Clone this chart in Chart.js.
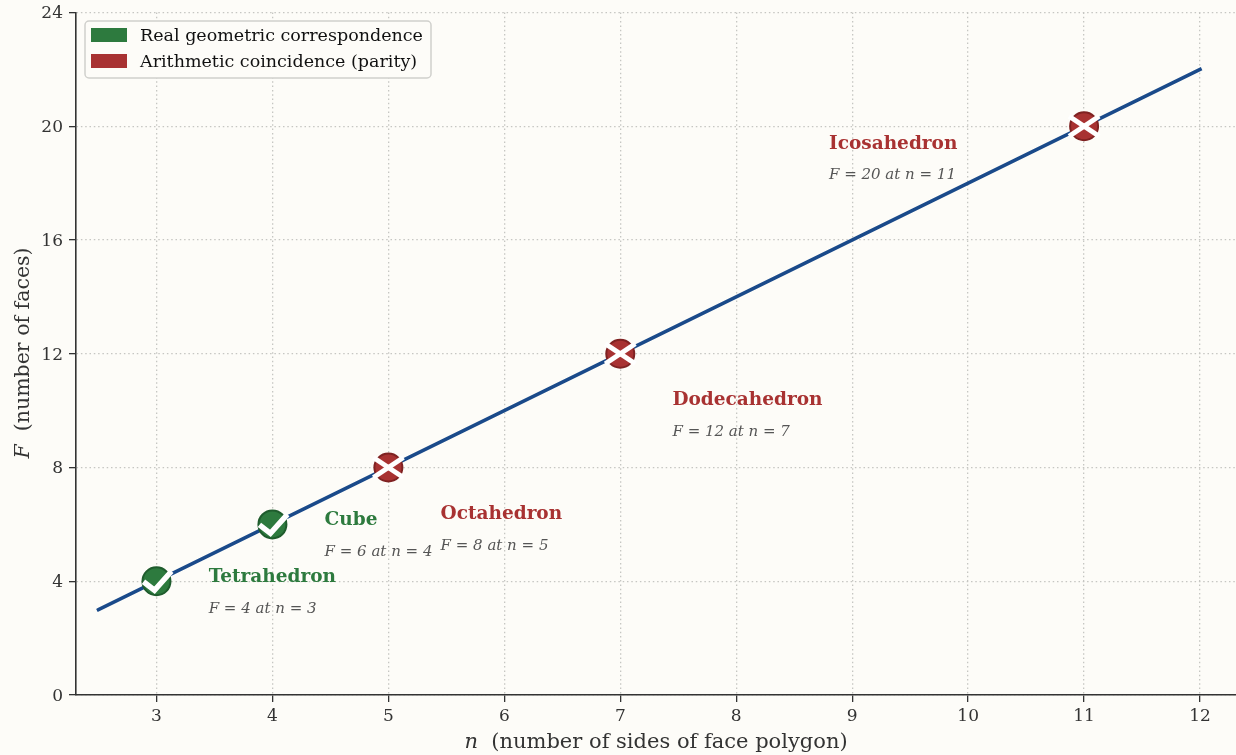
<!DOCTYPE html>
<html>
<head>
<meta charset="utf-8">
<title>Faces vs sides</title>
<script src="https://cdn.jsdelivr.net/npm/chart.js@4"></script>
<style>
  html, body { margin: 0; padding: 0; background: #fdfcf8; }
  canvas { display: block; }
</style>
</head>
<body>
<canvas id="facesChart" width="1236" height="755"></canvas>
<script>
// Line F = 2n - 2, end points
const lineN = [2.5, 12];
const lineF = [3, 22];

// Solids
const realNames = ['Tetrahedron', 'Cube'];
const realN = [3, 4];
const realF = [4, 6];
const parityNames = ['Octahedron', 'Dodecahedron', 'Icosahedron'];
const parityN = [5, 7, 11];
const parityF = [8, 12, 20];

// Annotation anchors, in data units
const realLabelN = [3.45, 4.45];
const realTitleF = [4.18, 6.19];
const realSubF = [3.05, 5.06];
const parityLabelN = [5.45, 7.45, 8.8];
const parityTitleF = [6.4, 10.4, 19.4];
const paritySubF = [5.27, 9.28, 18.3];

const xTicks = [3, 4, 5, 6, 7, 8, 9, 10, 11, 12];
const yTicks = [0, 4, 8, 12, 16, 20, 24];
const legendLabels = ['Real geometric correspondence', 'Arithmetic coincidence (parity)'];

const SERIF = '"DejaVu Serif", serif';
const GREEN = '#2d7a3e';
const RED = '#a83232';
const BLUE = '#1a4a8a';
const AXIS = '#333333';
const GRID = '#c6c6c2';

function toPoints(xs, ys) {
    return xs.map((x, i) => ({ x: x, y: ys[i] }));
}

function stroke(ctx, pts) {
    ctx.beginPath();
    pts.forEach((p, i) => i ? ctx.lineTo(p[0], p[1]) : ctx.moveTo(p[0], p[1]));
    ctx.stroke();
}

// the auto layout keeps room for edge tick labels, the plot here runs to the canvas edge
const fixedAreaPlugin = {
    id: 'fixedArea',
    afterLayout(chart) {
        const area = { left: 76, right: 1236, top: 12.5, bottom: 695 };
        Object.assign(chart.chartArea, area, { width: area.right - area.left, height: area.bottom - area.top });
        const x = chart.scales.x, y = chart.scales.y;
        Object.assign(x, { left: area.left, right: area.right, width: area.right - area.left, top: area.bottom, bottom: 755 });
        Object.assign(y, { left: 0, right: area.left, top: area.top, bottom: area.bottom, height: area.bottom - area.top });
        x.configure();
        y.configure();
    }
};

// white check and cross on top of the round markers
const glyphPlugin = {
    id: 'glyphs',
    afterDatasetsDraw(chart) {
        const ctx = chart.ctx;
        ctx.save();
        ctx.strokeStyle = '#ffffff';
        ctx.lineCap = 'butt';
        ctx.lineJoin = 'miter';
        ctx.lineWidth = 5.5;
        chart.getDatasetMeta(1).data.forEach(p => {
            stroke(ctx, [[p.x - 13, p.y + 0.5], [p.x - 2, p.y + 9], [p.x + 15, p.y - 10]]);
        });
        ctx.lineWidth = 5;
        chart.getDatasetMeta(2).data.forEach(p => {
            stroke(ctx, [[p.x - 15, p.y - 10], [p.x + 15, p.y + 10]]);
            stroke(ctx, [[p.x - 15, p.y + 10], [p.x + 15, p.y - 10]]);
        });
        ctx.restore();
    }
};

const labelPlugin = {
    id: 'solidLabels',
    afterDatasetsDraw(chart) {
        const ctx = chart.ctx;
        const xs = chart.scales.x, ys = chart.scales.y;
        ctx.save();
        ctx.textAlign = 'left';
        ctx.textBaseline = 'middle';
        function put(names, ns, fs, labN, titleF, subF, color) {
            names.forEach((name, i) => {
                const px = xs.getPixelForValue(labN[i]);
                ctx.font = 'bold 18.5px ' + SERIF;
                ctx.fillStyle = color;
                ctx.fillText(name, px, ys.getPixelForValue(titleF[i]) + 1);
                ctx.font = 'italic 15px ' + SERIF;
                ctx.fillStyle = '#555555';
                ctx.fillText('F = ' + fs[i] + ' at n = ' + ns[i], px, ys.getPixelForValue(subF[i]) + 1);
            });
        }
        put(realNames, realN, realF, realLabelN, realTitleF, realSubF, GREEN);
        put(parityNames, parityN, parityF, parityLabelN, parityTitleF, paritySubF, RED);
        ctx.restore();
    }
};

// axis titles have an italic variable followed by upright text
const axisTitlePlugin = {
    id: 'axisTitles',
    afterDraw(chart) {
        const ctx = chart.ctx;
        function run(italic, rest, cx, cy, angle, size) {
            ctx.save();
            ctx.translate(cx, cy);
            ctx.rotate(angle);
            ctx.fillStyle = AXIS;
            ctx.textBaseline = 'middle';
            ctx.textAlign = 'left';
            ctx.font = 'italic ' + size + 'px ' + SERIF;
            const w1 = ctx.measureText(italic).width;
            ctx.font = size + 'px ' + SERIF;
            const w2 = ctx.measureText(rest).width;
            const start = -(w1 + w2) / 2;
            ctx.font = 'italic ' + size + 'px ' + SERIF;
            ctx.fillText(italic, start, 0);
            ctx.font = size + 'px ' + SERIF;
            ctx.fillText(rest, start + w1, 0);
            ctx.restore();
        }
        run('n', '  (number of sides of face polygon)', 656, 743, 0, 21);
        run('F', '  (number of faces)', 24, 353, -Math.PI / 2, 20.5);
    }
};

const legendPlugin = {
    id: 'boxLegend',
    afterDraw(chart) {
        const ctx = chart.ctx;
        ctx.save();
        ctx.beginPath();
        ctx.roundRect(85, 21, 346, 57, 4);
        ctx.fillStyle = '#fdfcf8';
        ctx.fill();
        ctx.strokeStyle = '#d0d0cc';
        ctx.lineWidth = 1.5;
        ctx.stroke();
        [GREEN, RED].forEach((c, i) => {
            ctx.fillStyle = c;
            ctx.fillRect(91, 28 + i * 26, 36, 14);
            ctx.fillStyle = '#111111';
            ctx.font = '17.5px ' + SERIF;
            ctx.textBaseline = 'middle';
            ctx.fillText(legendLabels[i], 140, 36 + i * 26);
        });
        ctx.restore();
    }
};

function axisOptions(min, max, values, tickPadding, labelOffset) {
    return {
        type: 'linear',
        min: min,
        max: max,
        afterBuildTicks: scale => { scale.ticks = values.map(v => ({ value: v })); },
        grid: { color: GRID, lineWidth: 1.3, tickColor: AXIS, tickWidth: 1.3, tickLength: 7 },
        border: { color: AXIS, width: 1.6, dash: [1.5, 2.8] },
        ticks: {
            color: AXIS,
            font: { family: SERIF, size: 17 },
            maxRotation: 0,
            autoSkip: false,
            padding: tickPadding,
            labelOffset: labelOffset
        }
    };
}

new Chart(document.getElementById('facesChart').getContext('2d'), {
    type: 'scatter',
    data: {
        datasets: [
            {
                label: 'F = 2n - 2',
                data: toPoints(lineN, lineF),
                showLine: true,
                borderColor: BLUE,
                borderWidth: 3.5,
                borderCapStyle: 'square',
                pointRadius: 0,
                order: 3
            },
            {
                label: legendLabels[0],
                data: toPoints(realN, realF),
                backgroundColor: GREEN,
                borderColor: '#1f5c2d',
                borderWidth: 2,
                pointRadius: 14,
                order: 2
            },
            {
                label: legendLabels[1],
                data: toPoints(parityN, parityF),
                backgroundColor: RED,
                borderColor: '#7f2222',
                borderWidth: 2,
                pointRadius: 14,
                order: 1
            }
        ]
    },
    options: {
        responsive: false,
        animation: false,
        plugins: { legend: { display: false }, tooltip: { enabled: false } },
        scales: {
            x: axisOptions(2.306, 12.31, xTicks, 4, 0),
            y: axisOptions(0, 24, yTicks, 6, 1.5)
        }
    },
    plugins: [
        fixedAreaPlugin,
        { id: 'bg', beforeDraw(c) { c.ctx.fillStyle = '#fdfcf8'; c.ctx.fillRect(0, 0, c.width, c.height); } },
        glyphPlugin, labelPlugin, axisTitlePlugin, legendPlugin
    ]
});
</script>
</body>
</html>
